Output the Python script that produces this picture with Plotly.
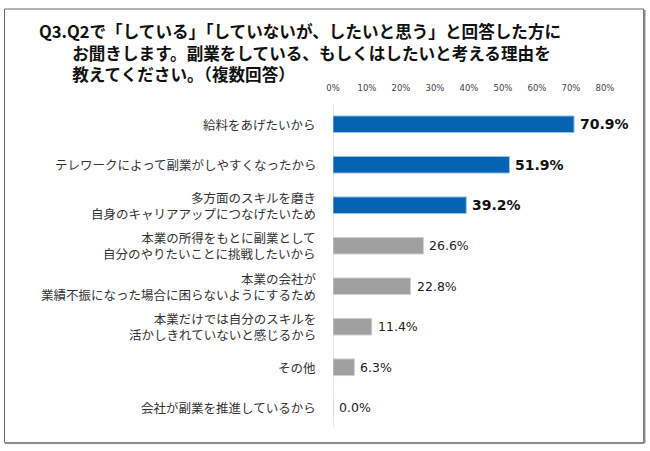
import plotly.graph_objects as go

categories = [
    "給料をあげたいから",
    "テレワークによって副業がしやすくなったから",
    "多方面のスキルを磨き<br>自身のキャリアアップにつなげたいため",
    "本業の所得をもとに副業として<br>自分のやりたいことに挑戦したいから",
    "本業の会社が<br>業績不振になった場合に困らないようにするため",
    "本業だけでは自分のスキルを<br>活かしきれていないと感じるから",
    "その他",
    "会社が副業を推進しているから",
]
values = [70.9, 51.9, 39.2, 26.6, 22.8, 11.4, 6.3, 0.0]
highlight = [True, True, True, False, False, False, False, False]
tick_vals = [0, 10, 20, 30, 40, 50, 60, 70, 80]
tick_text = [f"{v}%" for v in tick_vals]
title_lines = [
    "Q3.Q2で「している」「していないが、したいと思う」と回答した方に",
    "\u3000\u3000お聞きします。副業をしている、もしくはしたいと考える理由を",
    "\u3000\u3000教えてください。（複数回答）",
]

W, H = 650, 451
L, R, T, B = 333, 605, 104, 428  # plot area in pixels


def px_x(p):
    return (p - L) / (R - L)


def px_y(p):
    return (B - p) / (B - T)


blue = "#0563B4"
gray = "#A0A0A0"
colors = [blue if h else gray for h in highlight]
line_colors = ["#9DC3E6" if h else "#D0D0D0" for h in highlight]

fig = go.Figure()
fig.add_trace(go.Bar(
    x=values,
    y=categories,
    orientation="h",
    width=0.41,
    marker=dict(color=colors, line=dict(color=line_colors, width=1)),
    hoverinfo="skip",
))

annotations = []
for c, v, h in zip(categories, values, highlight):
    annotations.append(dict(
        x=v, y=c, xref="x", yref="y",
        text=(f"<b>{v:.1f}%</b>" if h else f"{v:.1f}%"),
        showarrow=False, xanchor="left", yanchor="middle", xshift=4,
        font=dict(family="DejaVu Sans, Verdana, sans-serif",
                  size=14 if h else 12.5, color="#111111" if h else "#222222"),
    ))
    # category label, right-aligned left of the axis
    annotations.append(dict(
        x=0, y=c, xref="x", yref="y", text=c, showarrow=False,
        xanchor="right", yanchor="middle", align="right", xshift=-15,
        font=dict(family="Noto Sans CJK JP", size=12.5, color="#333333"),
    ))

annotations.append(dict(
    x=px_x(37), y=px_y(53), xref="paper", yref="paper",
    text="<b>" + "<br>".join(title_lines) + "</b>", showarrow=False,
    xanchor="left", yanchor="middle", align="left",
    font=dict(family="Noto Sans CJK JP", size=16.6, color="#111111"),
))

shapes = [
    dict(type="rect", xref="paper", yref="paper",
         x0=px_x(4.5), x1=px_x(643.5), y0=px_y(442.5), y1=px_y(9),
         line=dict(color="#6a6a6a", width=1), fillcolor="rgba(0,0,0,0)", layer="below"),
    dict(type="line", xref="paper", yref="paper",
         x0=px_x(5), x1=px_x(644.5), y0=px_y(443), y1=px_y(443),
         line=dict(color="#8a8a8a", width=2)),
    dict(type="line", xref="paper", yref="paper",
         x0=px_x(644.5), x1=px_x(644.5), y0=px_y(10), y1=px_y(443),
         line=dict(color="#8a8a8a", width=2)),
]

fig.update_layout(
    width=W, height=H,
    margin=dict(l=L, r=W - R, t=T, b=H - B, pad=0),
    paper_bgcolor="white", plot_bgcolor="white",
    showlegend=False,
    xaxis=dict(
        range=[0, 80], side="top", tickvals=tick_vals, ticktext=tick_text,
        showgrid=False, zeroline=True, zerolinecolor="#E6E6E6", zerolinewidth=1,
        showline=False, ticks="", ticklabelstandoff=10,
        tickfont=dict(family="DejaVu Sans, Verdana, sans-serif", size=8.5, color="#444444"),
        fixedrange=True,
    ),
    yaxis=dict(
        categoryorder="array", categoryarray=categories, autorange="reversed",
        showgrid=False, zeroline=False, showline=False, ticks="",
        showticklabels=False, fixedrange=True,
    ),
    annotations=annotations,
    shapes=shapes,
)

fig.write_html("out.html", config={"displayModeBar": False},
               post_script="document.body.style.margin='0';")
